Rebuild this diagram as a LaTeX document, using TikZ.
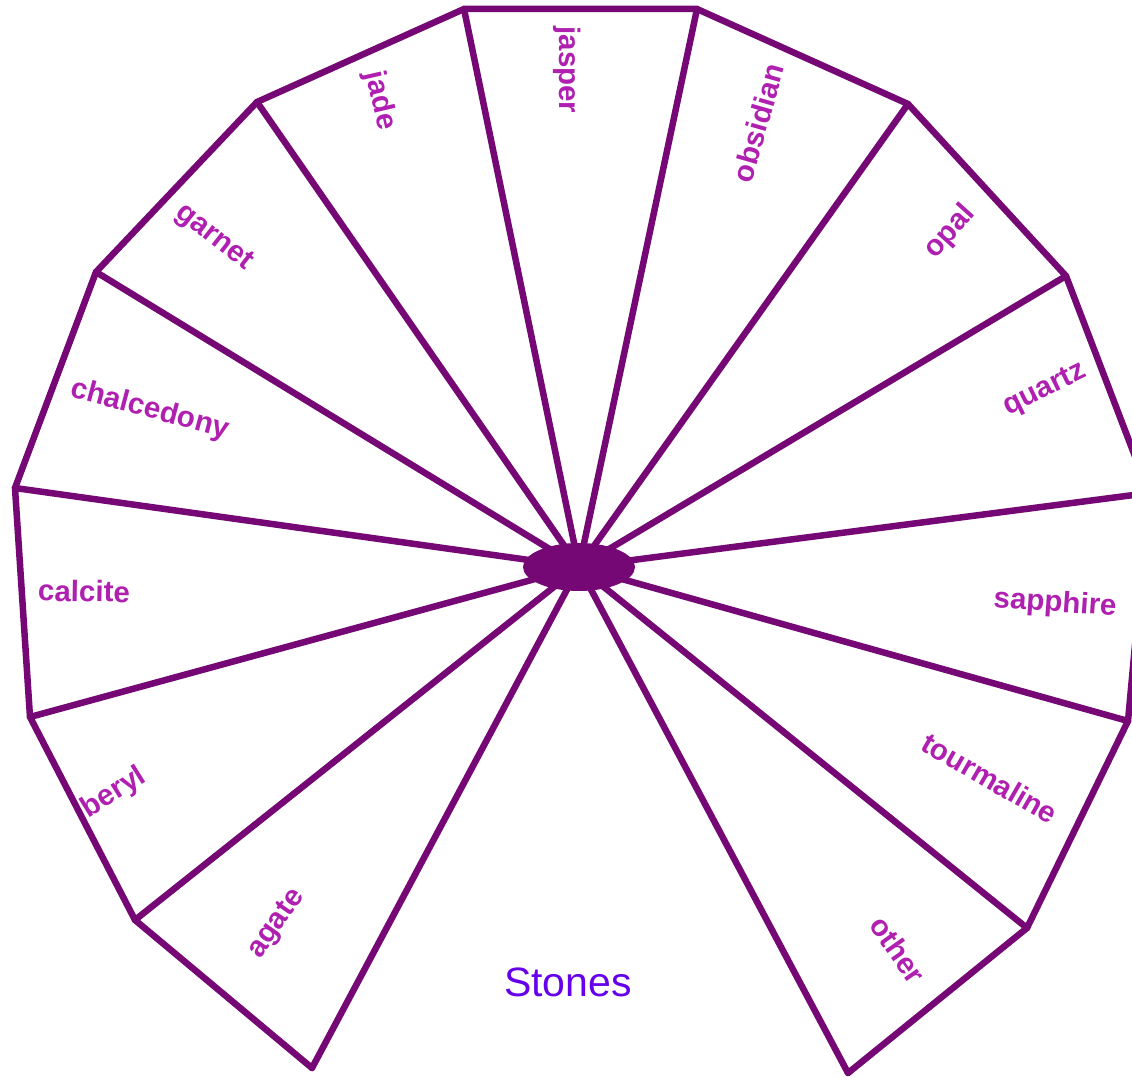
\documentclass[tikz,border=0pt]{standalone}
\usepackage{fontspec}
\setmainfont{Liberation Sans}
\usetikzlibrary{shapes.geometric}
\definecolor{spoke}{RGB}{118,8,118}
\definecolor{lbl}{RGB}{176,32,176}
\definecolor{ttl}{RGB}{102,0,235}
\tikzset{
  edge/.style={draw=spoke, line width=6.5pt, line join=miter, line cap=round},
  lab/.style={text=lbl, font=\bfseries\fontsize{29.5}{29.5}\selectfont, inner sep=0pt},
}
\begin{document}
\begin{tikzpicture}[x=1pt,y=-1pt]
\useasboundingbox (0,0) rectangle (1132,1078);
\clip (0,0) rectangle (1132,1078);
\fill[white] (0,0) rectangle (1132,1078);
% outer vertices
\coordinate (v1) at (312,1068);
\coordinate (v2) at (135,920);
\coordinate (v3) at (30,717);
\coordinate (v4) at (15,488);
\coordinate (v5) at (96,272);
\coordinate (v6) at (257,102);
\coordinate (v7) at (464,9);
\coordinate (v8) at (697,9);
\coordinate (v9) at (908,104);
\coordinate (v10) at (1066,276);
\coordinate (v11) at (1149,493);
\coordinate (v12) at (1128,721);
\coordinate (v13) at (1027,928);
\coordinate (v14) at (848,1073);
% outer rim
\draw[edge] (v1) -- (v2) -- (v3) -- (v4) -- (v5) -- (v6) -- (v7) -- (v8) -- (v9) -- (v10) -- (v11) -- (v12) -- (v13) -- (v14);
% hub
\coordinate (c) at (579,567);
\foreach \i in {1,...,14} { \draw[edge] (c) -- (v\i); }
\node[ellipse, fill=spoke, minimum width=112pt, minimum height=48pt, inner sep=0pt] (hub) at (c) {};
% labels
\node[lab, rotate=-77] (jade) at (380,101) {jade};
\node[lab, rotate=-90] (jasper) at (567,70) {jasper};
\node[lab, rotate=74] (obsidian) at (758,123) {obsidian};
\node[lab, rotate=48] (opal) at (950,232) {opal};
\node[lab, rotate=26] (quartz) at (1045,390) {quartz};
\node[lab, rotate=-4] (sapphire) at (1055,604) {sapphire};
\node[lab, rotate=-30] (tourmaline) at (990,778) {tourmaline};
\node[lab, rotate=-55] (other) at (898,950) {other};
\node[lab, rotate=55] (agate) at (277,924) {agate};
\node[lab, rotate=32] (beryl) at (114,793) {beryl};
\node[lab, rotate=-1] (calcite) at (84,591) {calcite};
\node[lab, rotate=-15] (chalcedony) at (150,410) {chalcedony};
\node[lab, rotate=-38] (garnet) at (214,238) {garnet};
\node[text=ttl, font=\fontsize{41}{41}\selectfont, inner sep=0pt] (stones) at (568,982) {Stones};
\end{tikzpicture}
\end{document}
